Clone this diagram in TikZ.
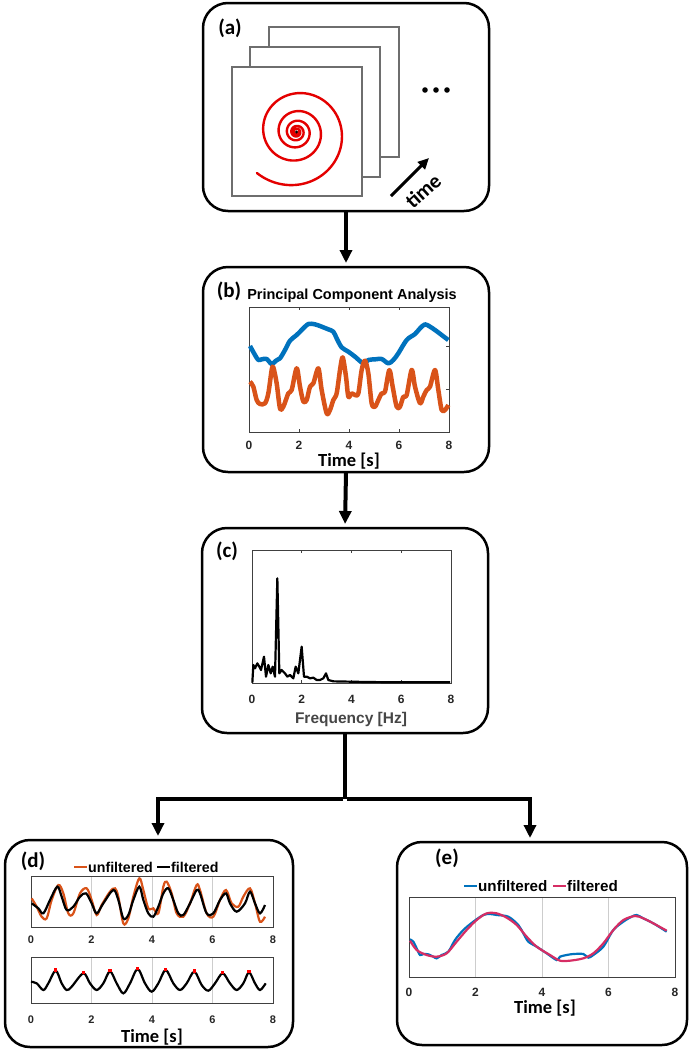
\documentclass[tikz,border=0pt]{standalone}
\usepackage{fontspec}
\setmainfont{Carlito}
\newfontfamily\arialf{Liberation Sans}
\usetikzlibrary{arrows.meta}
\definecolor{mblue}{RGB}{0,114,189}
\definecolor{morange}{RGB}{217,83,25}
\definecolor{mpink}{RGB}{214,45,100}
\definecolor{sred}{RGB}{228,0,0}
\definecolor{framegray}{RGB}{110,110,110}
\definecolor{axgray}{RGB}{64,64,64}
\definecolor{gridgray}{RGB}{205,205,205}
\definecolor{ticktxt}{RGB}{38,38,38}
\definecolor{freqgray}{RGB}{70,70,70}
\tikzset{
  panel/.style={draw, line width=2.5pt, rounded corners=25pt, inner sep=0pt, outer sep=0pt},
  conn/.style={line width=4pt, -{Triangle[length=13pt,width=12pt]}, shorten >=4pt},
  plain/.style={line width=4pt},
  lbl/.style={font=\bfseries\fontsize{21}{21}\selectfont, inner sep=0pt},
  axlbl/.style={font=\bfseries\fontsize{18.5}{19}\selectfont, inner sep=0pt},
  tick/.style={font=\arialf\bfseries\fontsize{12}{12}\selectfont, text=ticktxt, inner sep=0pt},
  ticks/.style={font=\arialf\bfseries\fontsize{11}{11}\selectfont, text=ticktxt, inner sep=0pt},
  leg/.style={font=\arialf\bfseries\fontsize{14.2}{15}\selectfont, inner sep=0pt, anchor=west},
  legE/.style={font=\arialf\bfseries\fontsize{15.2}{16}\selectfont, inner sep=0pt, anchor=west},
  axbox/.style={draw=axgray, line width=1pt},
  gridl/.style={draw=gridgray, line width=0.8pt},
  framebox/.style={draw=framegray, line width=1.5pt, fill=white},
}
\begin{document}
\begin{tikzpicture}[x=1pt,y=-1pt]
\useasboundingbox (0,0) rectangle (689,1050);

% ---------------- panels ----------------
\node[panel, minimum width=286pt, minimum height=208pt] (pa) at (346,107) {};
\node[panel, minimum width=286pt, minimum height=205pt] (pb) at (346,369.5) {};
\node[panel, minimum width=286pt, minimum height=205pt] (pc) at (345,630.5) {};
\node[panel, minimum width=288pt, minimum height=207pt] (pd) at (149,943.5) {};
\node[panel, minimum width=290pt, minimum height=203pt] (pe) at (542,943.5) {};

% ---------------- connectors ----------------
\draw[conn] (pa.south) -- (pb.north);
\draw[conn] (pb.south) -- (pc.north);
\coordinate (join) at (347,799);
\draw[plain] (pc.south) -- (pc.south |- join);
\draw[conn] ([xshift=-2pt]pc.south |- join) -| ([xshift=9pt]pd.north);
\draw[conn] ([xshift=2pt]pc.south |- join) -| ([xshift=-12pt]pe.north);

% ---------------- panel (a) ----------------
\node[lbl] (la) at (230,28) {(a)};
\draw[framebox] (269,27) rectangle (399,157);
\draw[framebox] (250,47) rectangle (380,177);
\draw[framebox] (232,67) rectangle (362,196);
\draw[sred, line width=2.4pt, line cap=round] plot[domain=0:1950, samples=700, variable=\t]
  ({296.5+57*exp(-0.00172*\t)*cos(-134+\t)}, {132-57*exp(-0.00172*\t)*sin(-134+\t)});
\fill[black] (296.5,132) circle (1.7);
\fill (425,90) circle (2.8);
\fill (436,90) circle (2.8);
\fill (447,90) circle (2.8);
\coordinate (t0) at (391,196);
\coordinate (t1) at (429,158);
\draw[line width=3pt, -{Triangle[length=11pt,width=10pt]}] (t0) -- (t1);
\node[rotate=42, font=\bfseries\fontsize{21}{21}\selectfont, inner sep=0pt] (timelbl) at (423,191) {time};

% ---------------- panel (b) ----------------
\node[lbl] (lb) at (229,291) {(b)};
\node[font=\arialf\bfseries\fontsize{14.5}{15}\selectfont, inner sep=0pt] (titleb) at (352,296) {Principal Component Analysis};
\draw[axbox] (249,307) rectangle (449,432);
\foreach \xx in {299,349,399} {
  \draw[axgray, line width=0.8pt] (\xx,432) -- ++(0,-3);
  \draw[axgray, line width=0.8pt] (\xx,307) -- ++(0,3);
}
\draw[axgray, line width=0.8pt] (449,346) -- ++(-3,0);
\draw[axgray, line width=0.8pt] (449,389) -- ++(-3,0);
\foreach \v [count=\i from 0] in {0,2,4,6,8} {
  \node[tick] (tb\i) at (249+50*\i,445) {\v};
}
\node[axlbl] (xb) at (349,461) {Time [s]};
\begin{scope}[shift={(200,260)}, scale=0.33333]
\draw[mblue, line width=4.5pt, line join=round] plot[smooth, tension=0.5] coordinates {
(150,258) (165,285) (175,300) (185,298) (200,297) (215,312) (228,302) (240,295) (255,270) (270,242)
(290,225) (305,210) (325,192) (345,193) (365,200) (385,208) (400,215) (410,235) (425,262) (445,275)
(465,290) (490,310) (505,300) (525,298) (545,297) (565,310) (580,300) (595,280) (620,240) (645,222)
(660,205) (675,193) (690,200) (705,210) (725,225) (745,240)};
\draw[morange, line width=4.5pt, line join=round] plot[smooth, tension=0.5] coordinates {
(150,365) (160,380) (170,420) (180,432) (195,430) (205,400) (215,330) (220,322) (230,370) (240,445)
(250,440) (265,400) (275,390) (290,325) (300,380) (310,425) (320,420) (330,380) (340,370) (355,325)
(365,390) (380,460) (390,450) (400,420) (410,400) (420,330) (428,292) (438,350) (445,410) (455,400)
(465,405) (475,400) (485,330) (495,302) (505,340) (515,430) (525,440) (535,420) (545,400) (555,395)
(568,330) (578,380) (590,440) (600,440) (610,410) (620,405) (635,330) (645,380) (660,430) (670,410)
(680,390) (690,380) (705,330) (715,390) (725,450) (735,450) (745,435)};
\end{scope}

% ---------------- panel (c) ----------------
\node[lbl] (lc) at (227,551) {(c)};
\draw[axbox] (252,550) rectangle (451,683);
\foreach \i in {1,2,3} {
  \draw[axgray, line width=0.8pt] (252+49.75*\i,550) -- ++(0,3);
  \draw[axgray, line width=0.8pt] (252+49.75*\i,683) -- ++(0,-3);
}
\foreach \v [count=\i from 0] in {0,2,4,6,8} {
  \node[tick] (tc\i) at (252+49.75*\i,699) {\v};
}
\node[font=\arialf\bfseries\fontsize{15.5}{16}\selectfont, text=freqgray, inner sep=0pt] (xc) at (351,719) {Frequency [Hz]};
\begin{scope}[shift={(200,500)}, scale=0.33333]
\draw[black, line width=2.2pt, line join=round] plot coordinates {
(157,548) (160,495) (165,505) (172,490) (178,500) (183,510) (192,470) (198,530) (205,495) (212,520)
(218,500) (225,530) (232,235) (238,520) (245,510) (255,520) (262,530) (270,525) (280,535) (287,500)
(295,520) (305,440) (312,530) (320,530) (330,535) (340,533) (350,540) (360,540) (370,535) (378,520)
(385,540) (400,544) (450,545) (500,546) (600,547) (750,547)};
\end{scope}

% ---------------- panel (d) ----------------
\node[lbl] (ld) at (33,861) {(d)};
\draw[morange, line width=2pt] (74,867) -- (87,867);
\node[leg] (ud) at (88,867) {unfiltered};
\draw[black, line width=2pt] (157,867) -- (170,867);
\node[leg] (fd) at (171,867) {filtered};
\foreach \i in {1,2,3} {
  \draw[gridl] (31+60.5*\i,876) -- (31+60.5*\i,927);
  \draw[gridl] (31+60.5*\i,957) -- (31+60.5*\i,1003);
}
\draw[axbox] (31,876) rectangle (273,927);
\draw[axbox] (31,957) rectangle (273,1003);
\foreach \v [count=\i from 0] in {0,2,4,6,8} {
  \node[ticks] (td\i) at (31+60.5*\i,940) {\v};
  \node[ticks] (te\i) at (31+60.5*\i,1020) {\v};
}
\node[axlbl] (xd) at (152,1037) {Time [s]};
\begin{scope}[shift={(0,790)}, scale=0.33333]
\draw[morange, line width=2.2pt] plot[smooth, tension=0.55] coordinates {
(95,325) (110,350) (125,380) (140,385) (155,330) (175,285) (190,310) (205,370) (220,370) (240,310)
(260,295) (275,330) (290,375) (305,345) (330,305) (345,295) (355,320) (370,400) (385,385) (400,320)
(418,265) (430,300) (445,355) (460,355) (475,370) (490,290) (500,275) (515,310) (530,370) (550,380)
(570,340) (590,285) (600,300) (620,370) (640,380) (660,330) (678,300) (695,340) (715,350) (730,320)
(750,295) (765,340) (780,395) (795,380)};
\draw[black, line width=2.2pt] plot[smooth, tension=0.55] coordinates {
(95,340) (115,355) (130,370) (150,330) (172,290) (185,320) (200,360) (220,350) (240,320) (258,310)
(275,340) (290,370) (310,340) (340,300) (355,330) (370,385) (385,375) (400,330) (418,290) (430,330)
(445,370) (460,380) (475,350) (490,310) (505,295) (520,330) (535,370) (550,375) (570,340) (590,300)
(600,310) (620,370) (640,370) (660,330) (678,310) (690,340) (710,365) (735,340) (750,305) (765,340)
(780,370) (795,345)};
\draw[black, line width=2.2pt] plot[smooth, tension=0.55] coordinates {
(93,575) (110,580) (130,600) (145,580) (167,542) (185,580) (200,600) (215,590) (250,550) (270,580)
(290,600) (310,580) (330,544) (350,580) (370,610) (390,580) (413,537) (435,580) (455,605) (475,580)
(497,540) (520,580) (540,600) (560,580) (583,545) (605,585) (625,602) (645,580) (668,550) (690,580)
(710,600) (730,580) (747,547) (765,580) (780,600) (797,580)};
\foreach \px/\py in {167/540,250/548,330/542,413/535,497/538,583/543,668/548,747/545}
  \fill[red] (\px,\py) ++(-5,-5) rectangle ++(10,10);
\end{scope}

% ---------------- panel (e) ----------------
\node[lbl] (le) at (447,858) {(e)};
\draw[mblue, line width=2pt] (464,886) -- (477,886);
\node[legE] (ue) at (478,886) {unfiltered};
\draw[mpink, line width=2pt] (553,886) -- (566,886);
\node[legE] (fe) at (567,886) {filtered};
\foreach \i in {1,2,3} {
  \draw[gridl] (409+66.5*\i,897) -- (409+66.5*\i,977);
}
\draw[axbox] (409,897) rectangle (675,977);
\foreach \v [count=\i from 0] in {0,2,4,6,8} {
  \node[tick] (tf\i) at (409+66.5*\i,992) {\v};
}
\node[axlbl] (xe) at (545,1008) {Time [s]};
\begin{scope}[shift={(390,790)}, scale=0.33333]
\draw[mblue, line width=2.2pt] plot[smooth, tension=0.5] coordinates {
(60,448) (70,455) (80,475) (90,495) (100,492) (115,493) (130,500) (140,505) (155,495) (175,485)
(195,450) (220,420) (250,395) (280,375) (300,372) (320,375) (355,380) (385,405) (400,430) (415,455)
(440,470) (470,490) (500,510) (510,500) (530,495) (550,492) (580,492) (595,503) (610,495) (640,470)
(670,420) (700,395) (725,380) (740,375) (760,385) (790,400) (830,425)};
\draw[mpink, line width=2.2pt] plot[smooth, tension=0.5] coordinates {
(60,452) (80,480) (110,495) (140,500) (170,490) (200,455) (230,420) (260,390) (290,370) (320,370)
(350,383) (380,405) (410,440) (440,470) (480,495) (510,512) (540,512) (580,505) (610,490) (640,460)
(670,420) (700,390) (735,378) (760,385) (790,400) (830,422)};
\end{scope}
\end{tikzpicture}
\end{document}
